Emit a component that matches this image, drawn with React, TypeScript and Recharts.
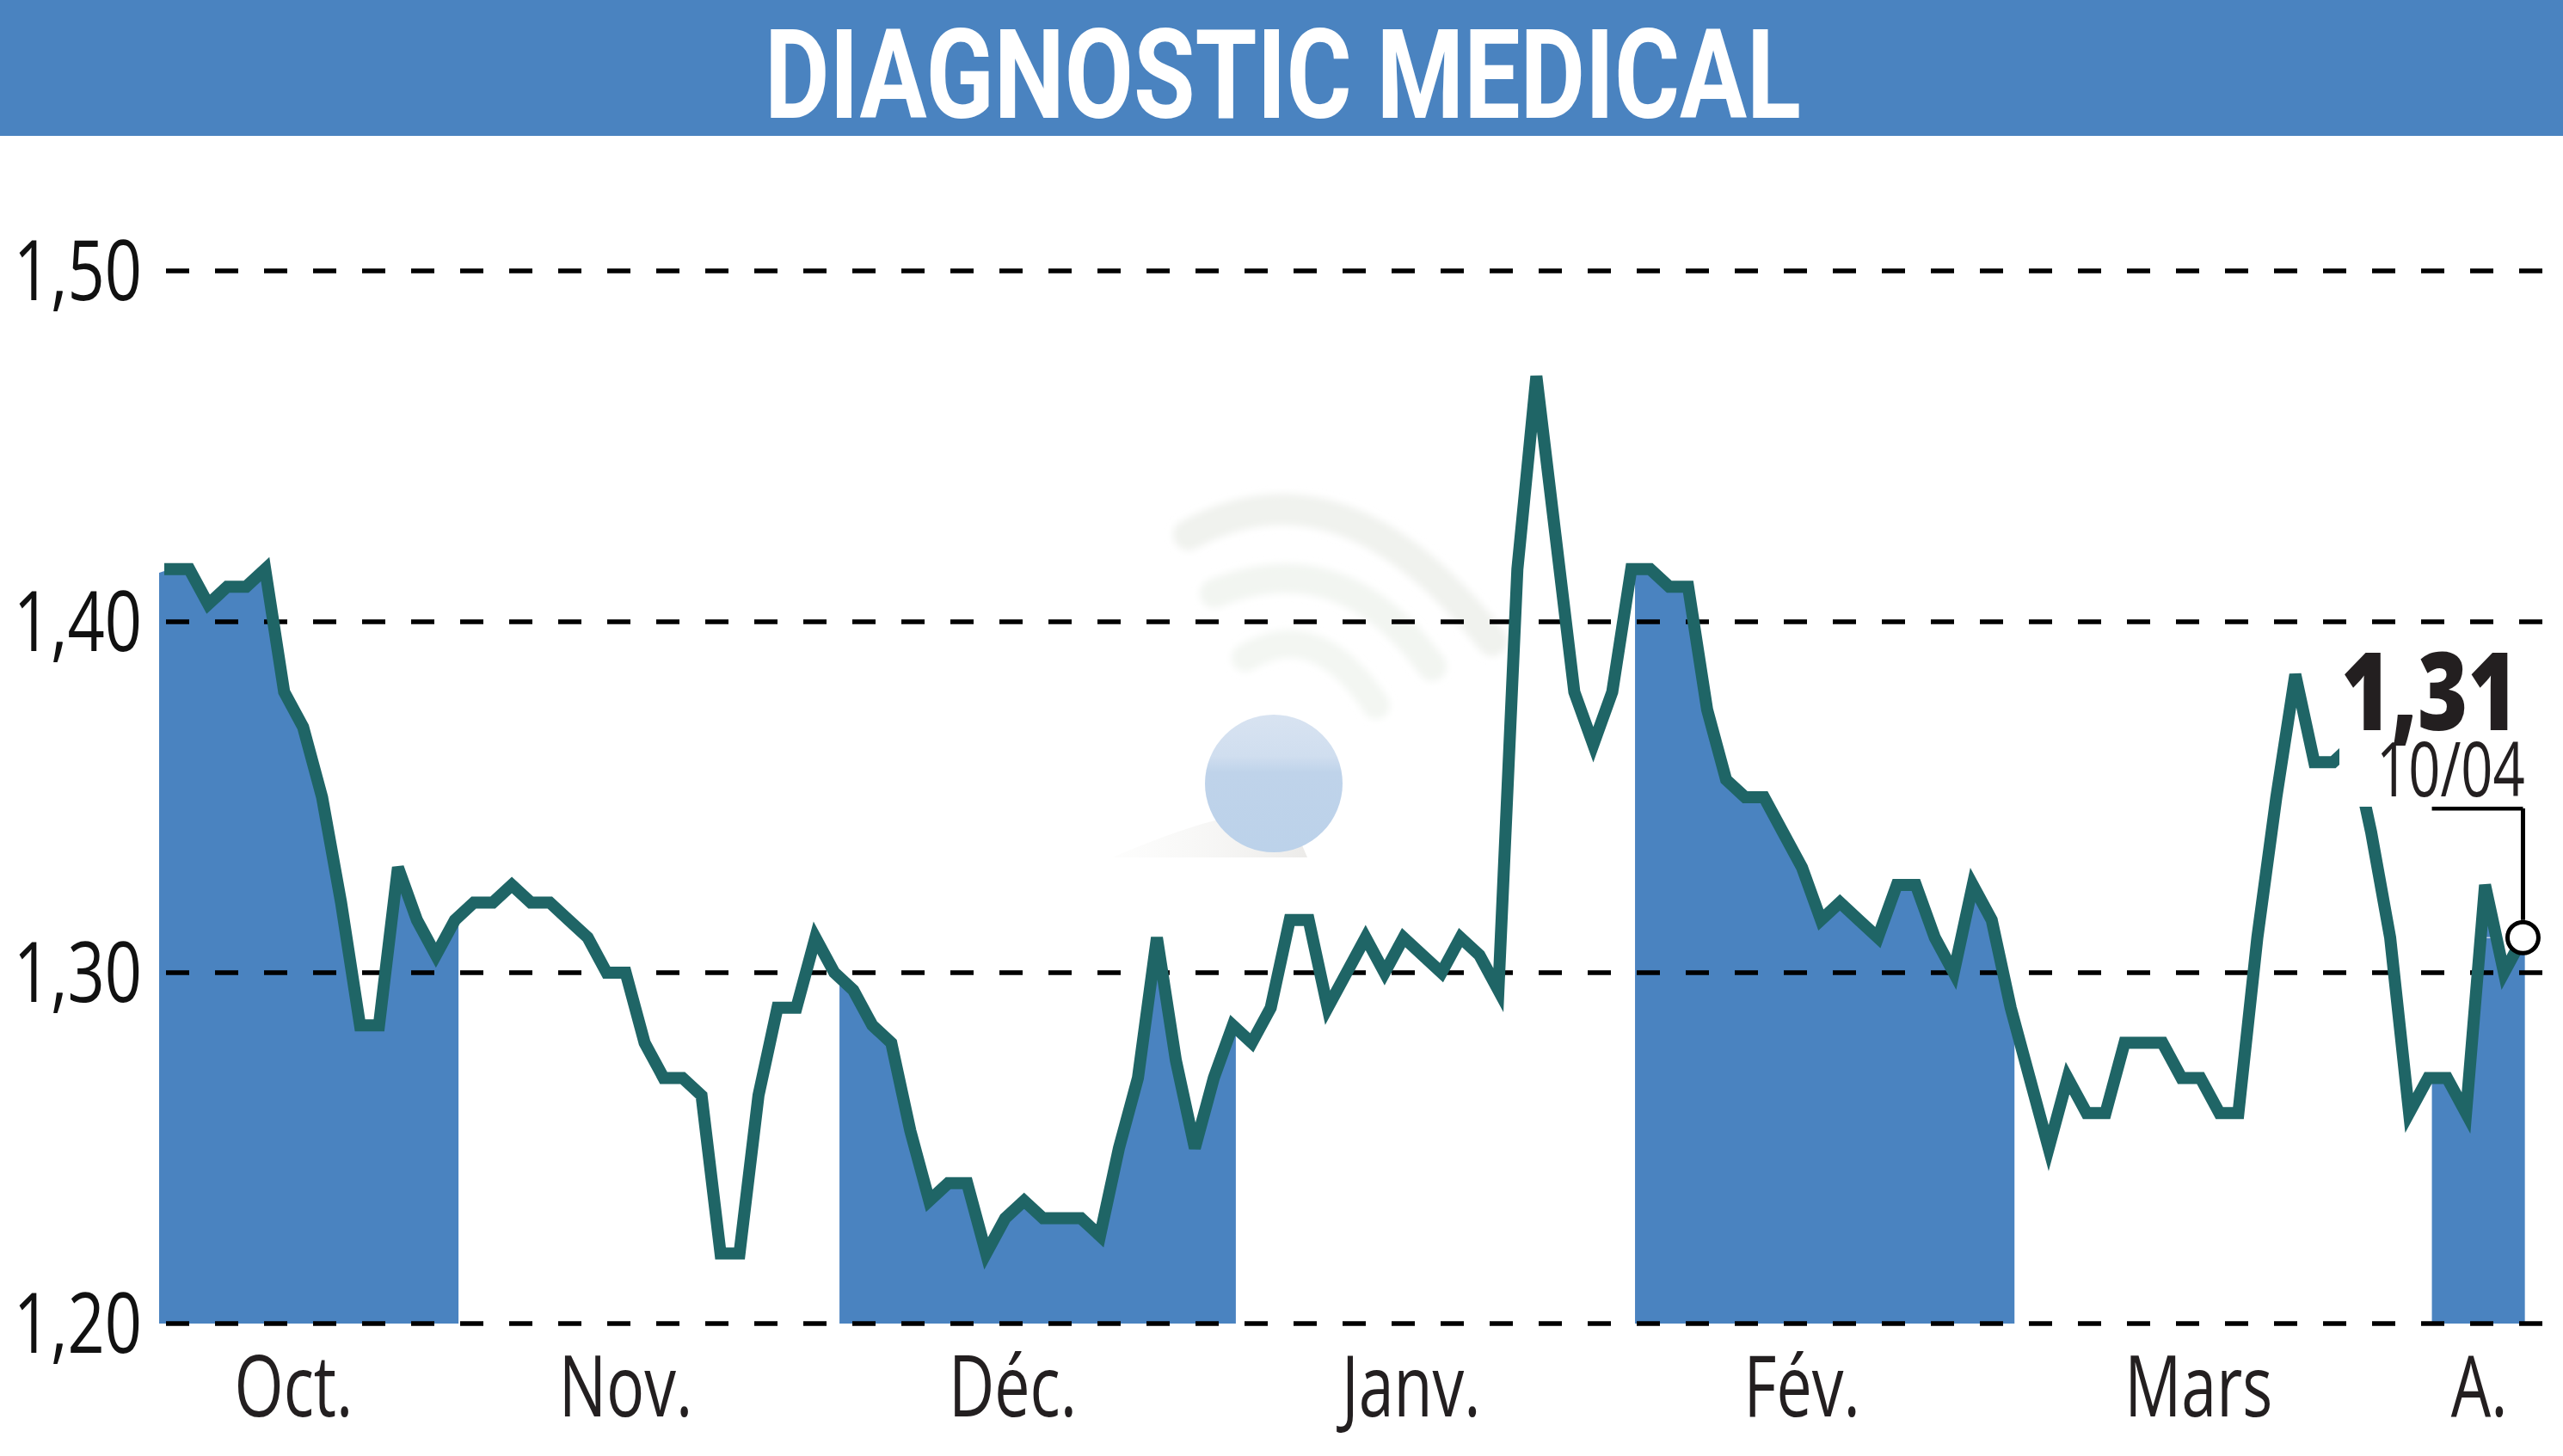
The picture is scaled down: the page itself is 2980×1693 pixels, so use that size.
import React from "react";
import { ComposedChart, AreaChart, Area, Line, XAxis, YAxis, CartesianGrid, ReferenceLine } from "recharts";

const title = "DIAGNOSTIC MEDICAL";
const lastValueLabel = "1,31";
const lastDateLabel = "10/04";

const prices = [
  1.415, 1.415, 1.405, 1.41, 1.41, 1.415, 1.38, 1.37, 1.35, 1.32,
  1.285, 1.285, 1.33, 1.315, 1.305, 1.315, 1.32, 1.32, 1.325, 1.32,
  1.32, 1.315, 1.31, 1.3, 1.3, 1.28, 1.27, 1.27, 1.265, 1.22,
  1.22, 1.265, 1.29, 1.29, 1.31, 1.3, 1.295, 1.285, 1.28, 1.255,
  1.235, 1.24, 1.24, 1.22, 1.23, 1.235, 1.23, 1.23, 1.23, 1.225,
  1.25, 1.27, 1.31, 1.275, 1.25, 1.27, 1.285, 1.28, 1.29, 1.315,
  1.315, 1.29, 1.3, 1.31, 1.3, 1.31, 1.305, 1.3, 1.31, 1.305,
  1.295, 1.415, 1.47, 1.425, 1.38, 1.365, 1.38, 1.415, 1.415, 1.41,
  1.41, 1.375, 1.355, 1.35, 1.35, 1.34, 1.33, 1.315, 1.32, 1.315,
  1.31, 1.325, 1.325, 1.31, 1.3, 1.325, 1.315, 1.29, 1.27, 1.25,
  1.27, 1.26, 1.26, 1.28, 1.28, 1.28, 1.27, 1.27, 1.26, 1.26,
  1.31, 1.35, 1.385, 1.36, 1.36, 1.365, 1.34, 1.31, 1.26, 1.27,
  1.27, 1.26, 1.325, 1.3, 1.31,
];

const bandStarts = [-0.59, 35.27, 77.2, 119.2];
const bandStartValues = [1.414, 1.299, 1.414, 1.27];
const bandEnds = [15.19, 56.16, 97.2, 124.1];
const bandEndValues = [1.316, 1.284, 1.285, 1.31];

const yTicks = [1.2, 1.3, 1.4, 1.5];
const monthTicks = [6.5, 24.0, 44.4, 65.4, 86.0, 106.9, 121.7];
const monthLabels = ["Oct.", "Nov.", "Déc.", "Janv.", "Fév.", "Mars", "A."];

const lastIndex = prices.length - 1;

const inBand = (i: number) => bandStarts.some((s, k) => i >= s && i <= bandEnds[k]);

const rows: { x: number; price: number | null; band: number | null }[] = [
  ...prices.map((p, i) => ({ x: i, price: p, band: inBand(i) ? p : null })),
  ...bandStarts.map((x, k) => ({ x, price: null, band: bandStartValues[k] })),
  ...bandEnds.map((x, k) => ({ x, price: null, band: bandEndValues[k] })),
].sort((a, b) => a.x - b.x);

const INK = "#231f20";
const BLUE = "#4a83c0";
const GREEN = "#1f6566";
const FONT = "'Open Sans', sans-serif";
const X_DOMAIN = [-0.59, 126.11];
const Y_DOMAIN = [1.2, 1.5];

const YTick = ({ x, y, payload }: any) => (
  <text
    transform={`translate(${x},${y + 34}) scale(0.78,1)`}
    textAnchor="end"
    fontFamily={FONT}
    fontSize={97}
    fill="#111"
  >
    {payload.value.toFixed(2).replace(".", ",")}
  </text>
);

const XTick = ({ x, y, payload, index }: any) => (
  <text
    transform={`translate(${x},1647) scale(0.75,1)`}
    textAnchor="middle"
    fontFamily={FONT}
    fontSize={98}
    fill={INK}
  >
    {monthLabels[index]}
  </text>
);

const LastDot = (props: any) => {
  const { cx, cy, payload, key } = props;
  if (payload.x !== lastIndex) return <g key={key} />;
  return <circle key={key} cx={cx} cy={cy} r={18} fill="#fff" stroke="#000" strokeWidth={5} />;
};

const Watermark = () => (
  <svg width={2980} height={1693} style={{ position: "absolute", left: 0, top: 0 }}>
    <defs>
      <linearGradient id="ball" x1="0" y1="0" x2="0" y2="1">
        <stop offset="0" stopColor="#d8e3f1" />
        <stop offset="0.3" stopColor="#d0deef" />
        <stop offset="0.42" stopColor="#bfd3ea" />
        <stop offset="1" stopColor="#bcd2ea" />
      </linearGradient>
      <linearGradient id="streak" x1="0" y1="0" x2="1" y2="0">
        <stop offset="0" stopColor="#f6f6f4" stopOpacity="0.2" />
        <stop offset="1" stopColor="#ecebe9" />
      </linearGradient>
      <filter id="soft" x="-20%" y="-20%" width="140%" height="140%">
        <feGaussianBlur stdDeviation="4" />
      </filter>
    </defs>
    <g fill="none" strokeLinecap="round" filter="url(#soft)">
      <path d="M1382 622 Q1560 525 1735 745" stroke="#f0f2ee" strokeWidth={36} />
      <path d="M1412 690 Q1560 630 1665 775" stroke="#f2f5f1" strokeWidth={34} />
      <path d="M1448 765 Q1530 715 1600 820" stroke="#f3f6f2" strokeWidth={32} />
    </g>
    <path d="M1293 997 Q1380 960 1430 950 L1500 950 L1520 997 Z" fill="url(#streak)" />
    <circle cx={1481} cy={911} r={80} fill="url(#ball)" />
  </svg>
);

const Overlay = () => (
  <svg width={2980} height={1693} style={{ position: "absolute", left: 0, top: 0 }}>
    <rect x={0} y={0} width={2980} height={158} fill={BLUE} />
    <text
      x={889}
      y={137}
      textLength={1205}
      lengthAdjust="spacingAndGlyphs"
      fontFamily="Roboto, sans-serif"
      fontWeight={700}
      fontSize={145}
      fill="#fff"
    >
      {title}
    </text>
    <rect x={2720} y={750} width={216} height={188} fill="#fff" />
    <text
      transform="translate(2722,849) scale(0.79,1)"
      fontFamily={FONT}
      fontWeight={800}
      fontSize={126}
      fill={INK}
    >
      {lastValueLabel}
    </text>
    <text
      transform="translate(2763,926) scale(0.74,1)"
      fontFamily={FONT}
      fontSize={88}
      fill={INK}
    >
      {lastDateLabel}
    </text>
  </svg>
);

export default function App() {
  return (
    <div style={{ position: "absolute", left: 0, top: 0, width: 2980, height: 1693, background: "#fff", overflow: "hidden" }}>
      <Watermark />
      <div style={{ position: "absolute", left: 0, top: 0 }}>
        <AreaChart
          width={2980}
          height={1693}
          data={rows}
          margin={{ top: 315, right: 0, bottom: 154, left: 185 }}
        >
          <XAxis dataKey="x" type="number" domain={X_DOMAIN} hide />
          <YAxis type="number" domain={Y_DOMAIN} hide />
          <Area
            dataKey="band"
            type="linear"
            fill={BLUE}
            fillOpacity={1}
            stroke="none"
            connectNulls={false}
            dot={false}
            activeDot={false}
            isAnimationActive={false}
          />
          {yTicks.map((v) => (
            <ReferenceLine
              key={v}
              y={v}
              stroke="#000"
              strokeWidth={5}
              strokeDasharray="27 30"
              strokeDashoffset={49}
              isFront
            />
          ))}
          <ReferenceLine
            segment={[{ x: 122, y: 1.31 }, { x: 124, y: 1.31 }]}
            stroke="#fff"
            strokeWidth={1}
            isFront
          />
        </AreaChart>
      </div>
      <div style={{ position: "absolute", left: 0, top: 0 }}>
        <ComposedChart
          width={2980}
          height={1693}
          data={rows}
          margin={{ top: 315, right: 0, bottom: 0, left: 0 }}
        >
          <CartesianGrid
            vertical={false}
            stroke="#000"
            strokeWidth={5}
            strokeDasharray="27 30"
            strokeDashoffset={49}
          />
          <XAxis
            dataKey="x"
            type="number"
            domain={X_DOMAIN}
            ticks={monthTicks}
            tick={<XTick />}
            tickLine={false}
            axisLine={false}
            height={154}
            interval={0}
            allowDecimals
          />
          <YAxis
            type="number"
            domain={Y_DOMAIN}
            ticks={yTicks}
            width={185}
            tick={<YTick />}
            tickLine={false}
            axisLine={false}
            tickSize={0}
            tickMargin={20}
            interval={0}
          />
          <ReferenceLine
            segment={[{ x: 119.2, y: 1.3468 }, { x: 124, y: 1.3468 }]}
            stroke="#000"
            strokeWidth={5}
          />
          <ReferenceLine
            segment={[{ x: 124, y: 1.3468 }, { x: 124, y: 1.315 }]}
            stroke="#000"
            strokeWidth={5}
          />
          <Line
            dataKey="price"
            type="linear"
            stroke={GREEN}
            strokeWidth={14}
            strokeLinecap="square"
            strokeLinejoin="miter"
            connectNulls
            dot={<LastDot />}
            activeDot={false}
            isAnimationActive={false}
          />
        </ComposedChart>
      </div>
      <Overlay />
    </div>
  );
}
